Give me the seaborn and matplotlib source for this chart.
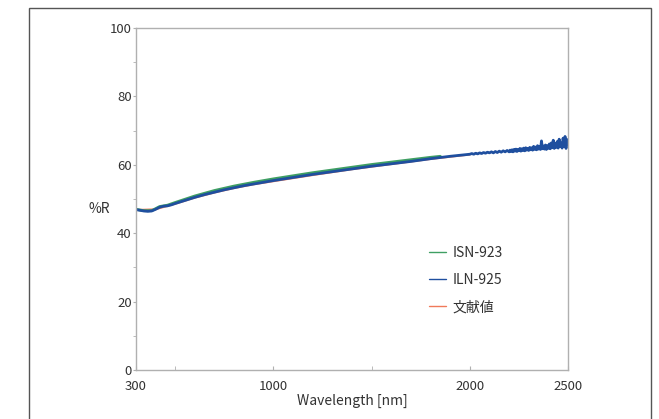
import pandas as pd
import matplotlib
matplotlib.use("Agg")
import matplotlib.pyplot as plt
import matplotlib.patches as patches
from matplotlib.ticker import MultipleLocator, FixedLocator
import seaborn as sns

# Reflectance spectra (%R)
iln_wl = [300, 320, 340, 360, 380, 400, 420, 440, 460, 480, 500, 550, 600, 650, 700, 750,
          800, 850, 900, 950, 1000, 1100, 1200, 1300, 1400, 1500, 1600, 1700, 1800, 1900,
          2000, 2010, 2020, 2030, 2040, 2050, 2060, 2070, 2080, 2090, 2100, 2110, 2120,
          2130, 2140, 2150, 2160, 2170, 2180, 2190, 2200,
          2205, 2210, 2215, 2220, 2225, 2230, 2235, 2240, 2245, 2250, 2255, 2260, 2265,
          2270, 2275, 2280, 2285, 2290, 2295, 2300, 2305, 2310, 2315, 2320, 2325, 2330,
          2335, 2340, 2345, 2350, 2355, 2360, 2365, 2370, 2375, 2380, 2385, 2390, 2395,
          2400, 2405, 2410, 2415, 2420, 2425, 2430, 2435, 2440, 2445, 2450, 2455, 2460,
          2465, 2470, 2475, 2480, 2485, 2490, 2495, 2500]
iln_r = [46.9, 46.7, 46.5, 46.4, 46.5, 47.0, 47.6, 47.9, 48.0, 48.3, 48.7, 49.6, 50.5, 51.3,
         52.0, 52.7, 53.3, 53.9, 54.4, 54.9, 55.4, 56.3, 57.2, 58.0, 58.8, 59.6, 60.3, 61.0,
         61.8, 62.5,
         63.1, 63.3, 63.1, 63.4, 63.2, 63.5, 63.3, 63.6, 63.4, 63.7, 63.5, 63.8, 63.5, 63.9,
         63.6, 64.0, 63.7, 64.1, 63.8, 64.2, 63.8,
         64.3, 63.9, 64.4, 63.8, 64.5, 64.0, 64.6, 63.9, 64.5, 64.1, 64.8, 64.0, 64.7, 64.2,
         64.9, 64.1, 65.0, 64.3, 64.8, 64.2, 65.1, 64.4, 65.0, 64.3, 65.4, 64.5, 65.2, 64.4,
         65.6, 64.6, 65.3, 64.5, 67.0, 64.7, 65.5, 64.6, 65.8, 64.5, 65.6, 64.8, 66.1, 64.7,
         66.4, 65.0, 67.2, 64.8, 66.3, 65.1, 66.8, 64.9, 67.5, 65.3, 66.4, 64.9, 67.8, 65.4,
         68.3, 64.8, 67.4, 66.0]

isn_wl = [300, 340, 380, 420, 460, 500, 600, 700, 800, 900, 1000, 1100, 1200, 1300, 1400,
          1500, 1600, 1700, 1800, 1850]
isn_r = [47.0, 46.6, 46.6, 47.8, 48.2, 49.0, 50.9, 52.5, 53.8, 54.9, 55.9, 56.8, 57.7, 58.5,
         59.3, 60.1, 60.8, 61.5, 62.2, 62.5]

lit_wl = [300, 400, 500, 600, 700, 800, 900, 1000, 1200, 1400, 1600, 1800, 2000]
lit_r = [46.8, 47.0, 48.6, 50.4, 51.9, 53.2, 54.3, 55.2, 57.0, 58.7, 60.2, 61.7, 63.0]

labels = ["ISN-923", "ILN-925", "文献値"]
colors = {"ISN-923": "#3f9f63", "ILN-925": "#1f4f9f", "文献値": "#f07a5a"}

x_ticks = [300, 1000, 2000, 2500]
y_ticks = [0, 20, 40, 60, 80, 100]

sns.set_style("ticks")
plt.rcParams["font.family"] = ["Noto Sans CJK JP", "DejaVu Sans"]

fig = plt.figure(figsize=(6.59, 4.19), dpi=100)
ax = fig.add_axes([0.2064, 0.117, 0.6555, 0.816])

lit = pd.DataFrame({"wl": lit_wl, "r": lit_r})
isn = pd.DataFrame({"wl": isn_wl, "r": isn_r})
iln = pd.DataFrame({"wl": iln_wl, "r": iln_r})

sns.lineplot(data=lit, x="wl", y="r", ax=ax, color=colors["文献値"], lw=1.4, label="文献値")
sns.lineplot(data=isn, x="wl", y="r", ax=ax, color=colors["ISN-923"], lw=2.0, label="ISN-923")
sns.lineplot(data=iln, x="wl", y="r", ax=ax, color=colors["ILN-925"], lw=2.0, label="ILN-925")

ax.set_xlim(300, 2500)
ax.set_ylim(0, 100)
ax.set_xticks(x_ticks)
ax.set_yticks(y_ticks)
ax.xaxis.set_minor_locator(FixedLocator([500, 1500]))
ax.yaxis.set_minor_locator(MultipleLocator(10))

txt = "#333333"
for s in ax.spines.values():
    s.set_color("#b0b0b0")
    s.set_linewidth(1.0)
ax.tick_params(axis="x", which="both", direction="in", color="#b0b0b0", labelcolor=txt,
               labelsize=9.5, length=3, pad=7)
ax.tick_params(axis="y", which="both", direction="out", color="#b0b0b0", labelcolor=txt,
               labelsize=9.5, length=2, pad=1)

ax.set_xlabel("Wavelength [nm]", fontsize=10, color=txt, labelpad=1)
ax.set_ylabel("%R", fontsize=10, color=txt, rotation=0, labelpad=12, va="center")
ax.yaxis.set_label_coords(-0.085, 0.47)

handles, labs = ax.get_legend_handles_labels()
hmap = dict(zip(labs, handles))
leg = ax.legend([hmap[l] for l in labels], labels, loc="upper left",
                bbox_to_anchor=(0.65, 0.40), frameon=False, fontsize=10,
                handlelength=1.2, handletextpad=0.5, labelspacing=0.95)
for line in leg.get_lines():
    line.set_linewidth(1.0)
for t in leg.get_texts():
    t.set_color(txt)

# outer frame around the figure
frame = patches.Rectangle((0.044, -0.05), 0.944, 1.031, transform=fig.transFigure,
                          fill=False, edgecolor="#555555", lw=1.0, clip_on=False)
fig.patches.append(frame)

fig.savefig("out.png", dpi=100)
